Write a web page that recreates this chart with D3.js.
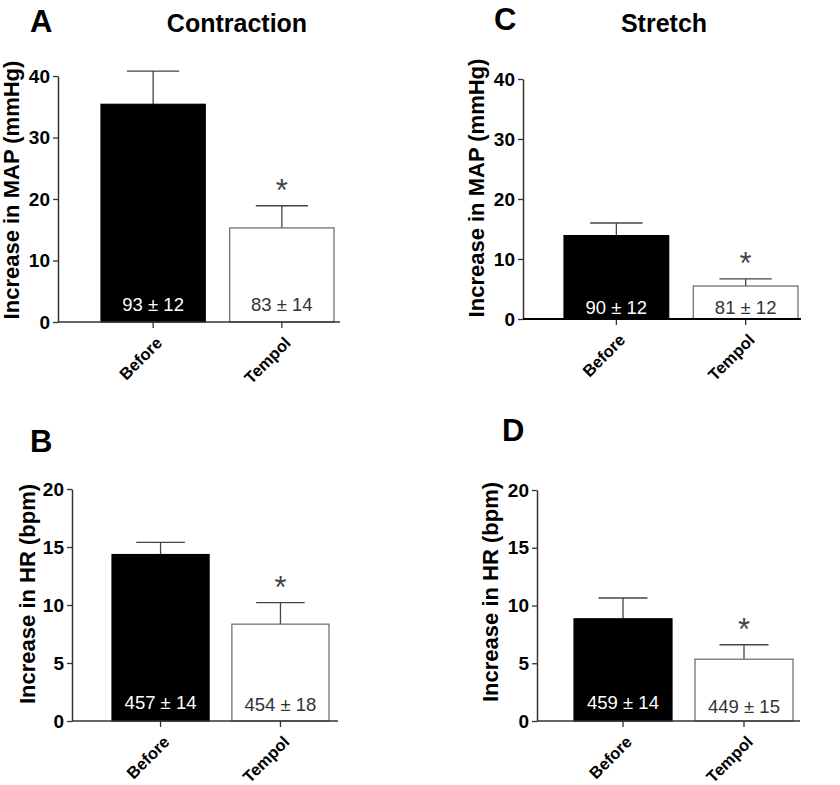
<!DOCTYPE html>
<html>
<head>
<meta charset="utf-8">
<script src="https://cdn.jsdelivr.net/npm/d3@7"></script>
<style>
  html, body { margin: 0; padding: 0; background: #fff; }
  svg { display: block; font-family: "Liberation Sans", Arial, Helvetica, sans-serif; }
</style>
</head>
<body>
<svg id="chart" width="840" height="785"></svg>
<script>
// ---- data ----
const categories = ["Before", "Tempol"];
const mapContraction = [35.4, 15.3];
const mapContractionErr = [5.4, 3.6];
const hrContraction = [14.35, 8.35];
const hrContractionErr = [1.05, 1.85];
const mapStretch = [13.9, 5.5];
const mapStretchErr = [2.1, 1.2];
const hrStretch = [8.85, 5.35];
const hrStretchErr = [1.8, 1.25];
const baselineMapContraction = ["93 ± 12", "83 ± 14"];
const baselineHrContraction = ["457 ± 14", "454 ± 18"];
const baselineMapStretch = ["90 ± 12", "81 ± 12"];
const baselineHrStretch = ["459 ± 14", "449 ± 15"];
const significant = [false, true];
const mapTicks = [0, 10, 20, 30, 40];
const hrTicks = [0, 5, 10, 15, 20];
const fills = ["#000000", "#ffffff"];

// ---- layout ----
const panels = [
  { letter: "A", title: "Contraction", values: mapContraction, errs: mapContractionErr,
    labels: baselineMapContraction, ticks: mapTicks, yLabel: "Increase in MAP (mmHg)",
    axisX: 58, y0: 322, yTop: 76, band: [101, 334], axisEnd: 340,
    letterX: 30, letterY: 32, titleX: 237, ylabX: 19, ylabY: 190,
    textDy: [-11, -11], xAxisW: 1.5 },
  { letter: "B", title: null, values: hrContraction, errs: hrContractionErr,
    labels: baselineHrContraction, ticks: hrTicks, yLabel: "Increase in HR (bpm)",
    axisX: 72, y0: 721, yTop: 489, band: [112, 329], axisEnd: 338,
    letterX: 30, letterY: 452, ylabX: 35, ylabY: 594,
    textDy: [-12, -10], xAxisW: 1.5 },
  { letter: "C", title: "Stretch", values: mapStretch, errs: mapStretchErr,
    labels: baselineMapStretch, ticks: mapTicks, yLabel: "Increase in MAP (mmHg)",
    axisX: 523, y0: 319, yTop: 79, band: [564, 798], axisEnd: 801,
    letterX: 494, letterY: 30, titleX: 664, ylabX: 484, ylabY: 188,
    textDy: [-5, -5], xAxisW: 2.2 },
  { letter: "D", title: null, values: hrStretch, errs: hrStretchErr,
    labels: baselineHrStretch, ticks: hrTicks, yLabel: "Increase in HR (bpm)",
    axisX: 537, y0: 721, yTop: 490, band: [574, 793], axisEnd: 800,
    letterX: 502, letterY: 441, ylabX: 498, ylabY: 592,
    textDy: [-12, -8], xAxisW: 1.5 }
];

const svg = d3.select("#chart");
const axisColor = "#333";

panels.forEach(p => {
  const g = svg.append("g");
  const yMax = p.ticks[p.ticks.length - 1];
  const y = d3.scaleLinear().domain([0, yMax]).range([p.y0, p.yTop]);
  const x = d3.scaleBand().domain(categories).range(p.band).paddingInner(0.19).paddingOuter(0);
  const data = categories.map((c, i) => ({ c, v: p.values[i], e: p.errs[i], lab: p.labels[i], sig: significant[i], fill: fills[i], i }));

  // panel letter & title
  g.append("text").attr("x", p.letterX).attr("y", p.letterY)
    .attr("font-size", 31).attr("font-weight", "bold").attr("fill", "#000").text(p.letter);
  if (p.title) {
    g.append("text").attr("x", p.titleX).attr("y", 32).attr("text-anchor", "middle")
      .attr("font-size", 25).attr("font-weight", "bold").attr("fill", "#000").text(p.title);
  }

  // y-axis label
  g.append("text")
    .attr("transform", `translate(${p.ylabX},${p.ylabY}) rotate(-90)`)
    .attr("text-anchor", "middle").attr("font-size", 22).attr("font-weight", "bold")
    .attr("fill", "#000").text(p.yLabel);

  // error bars (upward only)
  const eg = g.append("g").attr("stroke", "#444").attr("stroke-width", 1.3);
  data.forEach(d => {
    const cx = x(d.c) + x.bandwidth() / 2;
    const cw = x.bandwidth() / 4;
    eg.append("line").attr("x1", cx).attr("x2", cx).attr("y1", y(d.v)).attr("y2", y(d.v + d.e));
    eg.append("line").attr("x1", cx - cw).attr("x2", cx + cw).attr("y1", y(d.v + d.e)).attr("y2", y(d.v + d.e));
  });

  // bars
  g.selectAll("rect.bar").data(data).join("rect")
    .attr("class", "bar")
    .attr("x", d => x(d.c)).attr("width", x.bandwidth())
    .attr("y", d => y(d.v)).attr("height", d => p.y0 - y(d.v))
    .attr("fill", d => d.fill)
    .attr("stroke", d => d.i === 0 ? "#000" : "#666").attr("stroke-width", 1.2);

  // baseline texts inside bars
  g.selectAll("text.base").data(data).join("text")
    .attr("class", "base")
    .attr("x", d => x(d.c) + x.bandwidth() / 2)
    .attr("y", d => p.y0 + p.textDy[d.i])
    .attr("text-anchor", "middle").attr("font-size", 18.5)
    .attr("fill", d => d.i === 0 ? "#fff" : "#333")
    .text(d => d.lab);

  // significance stars
  g.selectAll("text.star").data(data.filter(d => d.sig)).join("text")
    .attr("class", "star")
    .attr("x", d => x(d.c) + x.bandwidth() / 2)
    .attr("y", d => y(d.v + d.e) - 5)
    .attr("text-anchor", "middle").attr("font-size", 31).attr("fill", "#444")
    .text("*");

  // y axis
  const yAxis = g.append("g").attr("transform", `translate(${p.axisX},0)`)
    .call(d3.axisLeft(y).tickValues(p.ticks).tickSize(5).tickSizeOuter(0).tickPadding(3).tickFormat(d3.format("d")));
  yAxis.select(".domain").attr("stroke", axisColor).attr("stroke-width", 1.5);
  yAxis.selectAll(".tick line").attr("stroke", axisColor).attr("stroke-width", 1.3);
  yAxis.selectAll(".tick text").attr("font-size", 19).attr("font-weight", "bold")
    .attr("fill", "#000").attr("font-family", "Liberation Sans, Arial, sans-serif");

  // x axis
  const xAxis = g.append("g").attr("transform", `translate(0,${p.y0})`)
    .call(d3.axisBottom(x).tickSize(6).tickSizeOuter(0).tickPadding(0));
  xAxis.select(".domain").remove();
  xAxis.selectAll(".tick line").attr("stroke", axisColor).attr("stroke-width", 1.3);
  xAxis.selectAll(".tick text")
    .attr("font-size", 16.5).attr("font-weight", "bold").attr("fill", "#000")
    .attr("font-family", "Liberation Sans, Arial, sans-serif")
    .attr("text-anchor", "end").attr("dy", null).attr("y", null)
    .attr("transform", "translate(10,22) rotate(-45)");
  g.append("line").attr("x1", p.axisX).attr("x2", p.axisEnd)
    .attr("y1", p.y0).attr("y2", p.y0)
    .attr("stroke", p.xAxisW > 2 ? "#000" : axisColor).attr("stroke-width", p.xAxisW);
});
</script>
</body>
</html>
